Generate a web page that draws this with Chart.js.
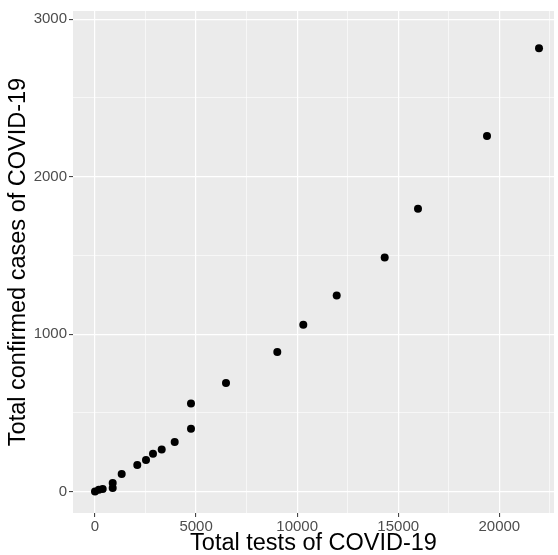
<!DOCTYPE html>
<html>
<head>
<meta charset="utf-8">
<script src="https://cdn.jsdelivr.net/npm/chart.js@4/dist/chart.umd.min.js"></script>
<style>
  html, body { margin: 0; padding: 0; background: #ffffff; overflow: hidden; }
  #wrap { width: 558px; height: 555px; }
</style>
</head>
<body>
<div id="wrap"><canvas id="c" width="558" height="555"></canvas></div>
<script>
// Data
const totalTests = [0, 190, 380, 876, 876, 1320, 2092, 2523, 2869, 3300, 3943, 4749, 4749, 6480, 9018, 10304, 11957, 14331, 15978, 19392, 21964];
const totalCases = [0, 12, 17, 23, 55, 111, 169, 201, 241, 268, 315, 399, 559, 690, 886, 1059, 1245, 1487, 1796, 2258, 2816];

const xTitle = "Total tests of COVID-19";
const yTitle = "Total confirmed cases of COVID-19";

// Tick / grid values (major labelled, minor unlabelled grid lines)
const xMajorTicks = [0, 5000, 10000, 15000, 20000];
const xMinorTicks = [2500, 7500, 12500, 17500, 22500];
const yMajorTicks = [0, 1000, 2000, 3000];
const yMinorTicks = [500, 1500, 2500];

const points = totalTests.map((t, i) => ({ x: t, y: totalCases[i] }));

const panelBg = {
  id: 'panelBg',
  beforeDraw(chart) {
    const a = chart.chartArea, ctx = chart.ctx;
    ctx.save();
    ctx.fillStyle = '#ebebeb';
    ctx.fillRect(a.left, a.top, a.right - a.left, a.bottom - a.top);
    ctx.restore();
  }
};

function setTicks(major, minor) {
  return (scale) => {
    scale.ticks = major.concat(minor).sort((a, b) => a - b).map(v => ({ value: v }));
  };
}
const isMajor = (list) => (ctx) => ctx.tick && list.includes(ctx.tick.value);

const tickFont = { family: "'Liberation Sans', Arial, Helvetica, sans-serif", size: 15 };
const titleFont = { family: "'Liberation Sans', Arial, Helvetica, sans-serif", size: 23.5, lineHeight: 1 };

new Chart(document.getElementById('c'), {
  type: 'scatter',
  data: {
    datasets: [{
      data: points,
      backgroundColor: '#000000',
      borderWidth: 0,
      pointRadius: 4,
      pointHoverRadius: 4
    }]
  },
  options: {
    responsive: false,
    animation: false,
    events: [],
    layout: { padding: { top: 10, right: 4, left: 0, bottom: 0 } },
    plugins: { legend: { display: false }, tooltip: { enabled: false } },
    scales: {
      x: {
        type: 'linear',
        min: -1088,
        max: 22706,
        afterBuildTicks: setTicks(xMajorTicks, xMinorTicks),
        afterFit(scale) { scale.height = 42; },
        border: { display: false },
        grid: {
          color: '#ffffff',
          lineWidth: (ctx) => isMajor(xMajorTicks)(ctx) ? 1.2 : 0.6,
          tickColor: (ctx) => isMajor(xMajorTicks)(ctx) ? '#333333' : 'rgba(0,0,0,0)',
          tickLength: 4,
          tickWidth: 1
        },
        ticks: {
          autoSkip: false,
          maxRotation: 0,
          minRotation: 0,
          padding: 1,
          color: '#4d4d4d',
          font: tickFont,
          callback: (v) => xMajorTicks.includes(v) ? String(v) : ''
        },
        title: {
          display: true,
          text: xTitle,
          color: '#000000',
          font: titleFont,
          padding: { top: 0, bottom: 0 }
        }
      },
      y: {
        type: 'linear',
        min: -136,
        max: 3052,
        afterBuildTicks: setTicks(yMajorTicks, yMinorTicks),
        afterFit(scale) { scale.width = 73; },
        border: { display: false },
        grid: {
          color: '#ffffff',
          lineWidth: (ctx) => isMajor(yMajorTicks)(ctx) ? 1.2 : 0.6,
          tickColor: (ctx) => isMajor(yMajorTicks)(ctx) ? '#333333' : 'rgba(0,0,0,0)',
          tickLength: 4,
          tickWidth: 1
        },
        ticks: {
          autoSkip: false,
          padding: 2,
          color: '#4d4d4d',
          font: tickFont,
          callback: (v) => yMajorTicks.includes(v) ? String(v) : ''
        },
        title: {
          display: true,
          text: yTitle,
          color: '#000000',
          font: titleFont,
          padding: { top: 7, bottom: 0 }
        }
      }
    }
  },
  plugins: [panelBg]
});
</script>
</body>
</html>
